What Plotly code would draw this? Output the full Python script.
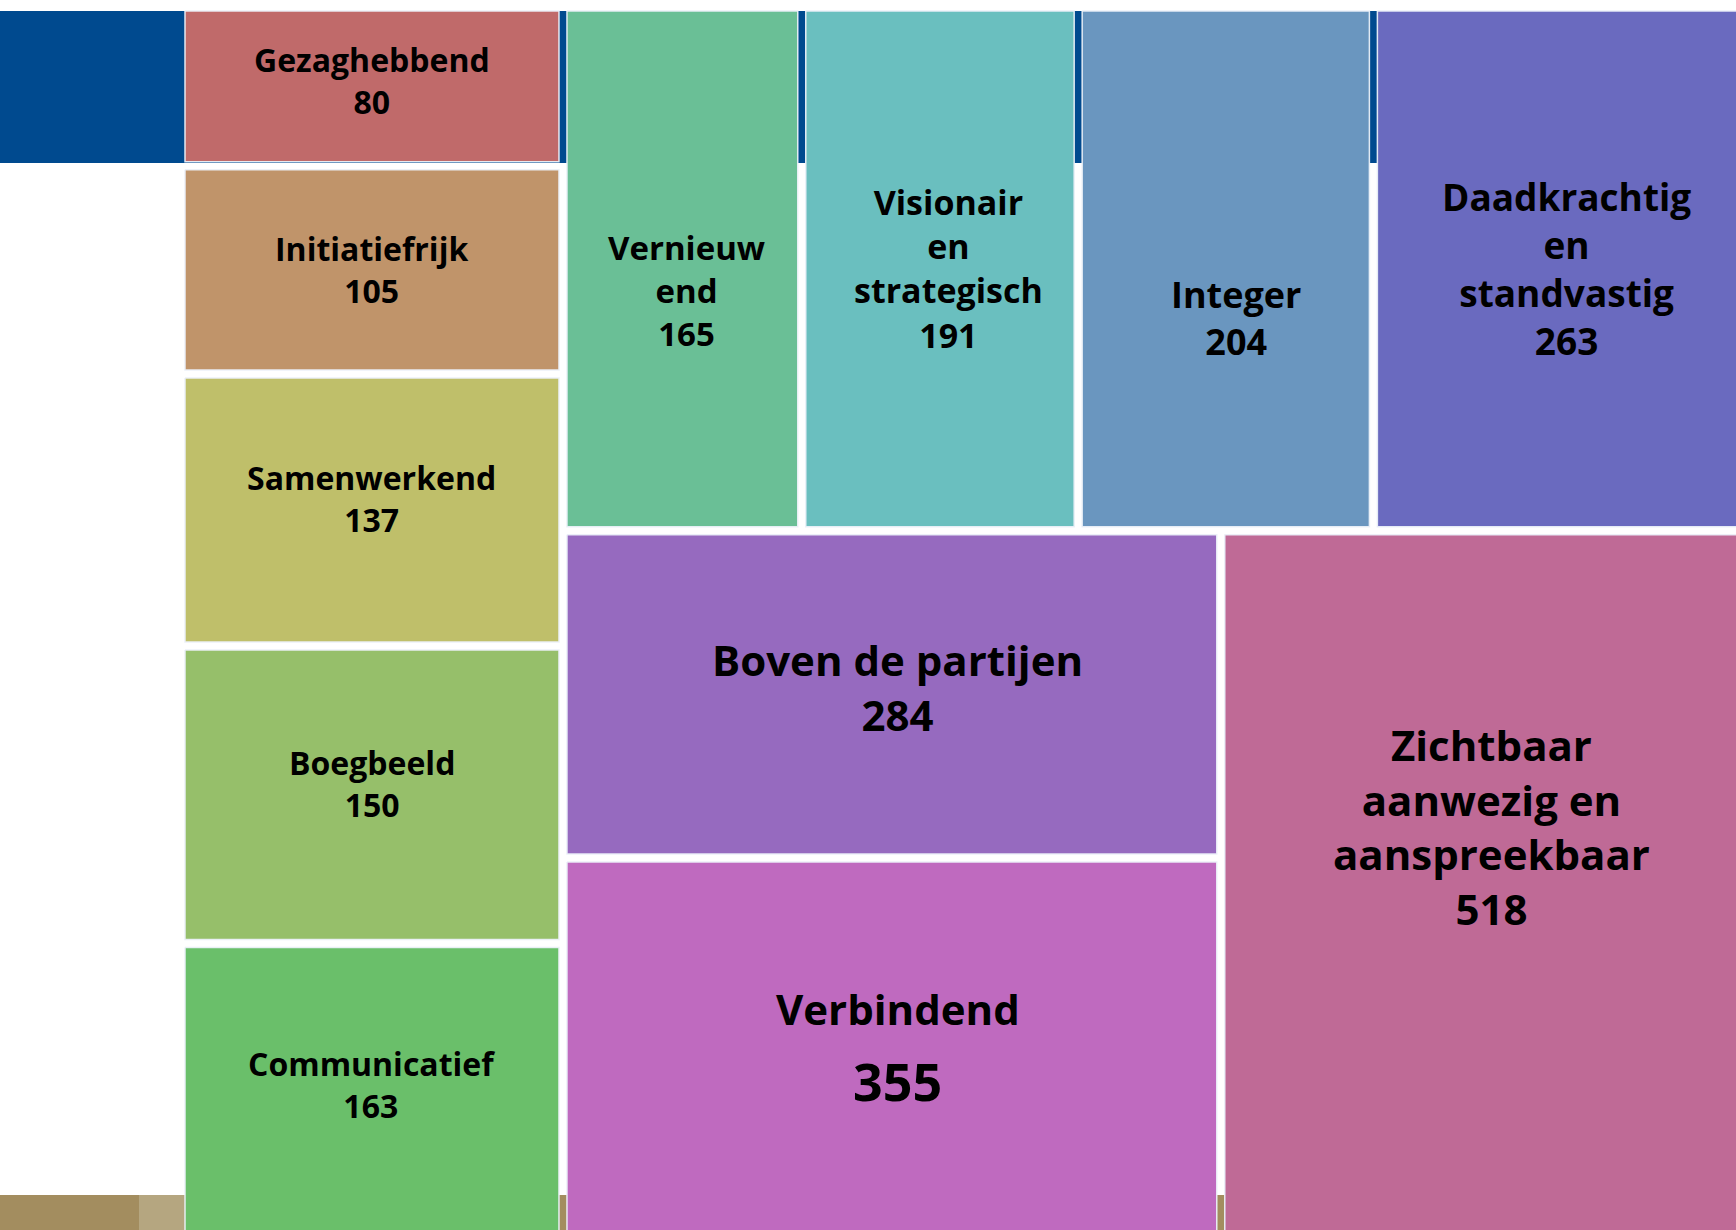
import plotly.graph_objects as go

# ---- data ----
left_labels = ["Gezaghebbend", "Initiatiefrijk", "Samenwerkend", "Boegbeeld", "Communicatief"]
left_values = [80, 105, 137, 150, 163]
top_labels = ["Vernieuw<br>end", "Visionair<br>en<br>strategisch", "Integer", "Daadkrachtig<br>en<br>standvastig"]
top_values = [165, 191, 204, 263]
stack_labels = ["Boven de partijen", "Verbindend"]
stack_values = [284, 355]
main_labels = ["Zichtbaar<br>aanwezig en<br>aanspreekbaar"]
main_values = [518]

# ---- styles ----
left_colors = ["#C06A6A", "#C0946A", "#BFBF6A", "#96BF6A", "#6ABF6A"]
top_colors = ["#6ABF96", "#6ABFBF", "#6A96BF", "#6A6ABF"]
stack_colors = ["#966ABF", "#BF6ABF"]
main_colors = ["#BF6A96"]
left_fs = [32, 32, 32, 32, 32]
top_fs = [33, 34, 36, 37]
stack_fs = [42, 42]
main_fs = [42]
left_dy = [-6, 0, -12, -11, -21]
top_dy = [22, 0, 49, 0]
stack_dy = [-7, -18]
main_dy = [-72]
left_dx = [0, 0, 0, 0, 0]
top_dx = [4, 9, 10, 3]
stack_dx = [6, 6]
main_dx = [4]

X0, Y0, W, H = 181.0, 7.0, 1573.0, 1260.0   # treemap frame (partly cropped by the view)
GAP = 4.0
FIG_W, FIG_H = 1736, 1230

fig = go.Figure()
cells = []  # (label, value, x0, y0, x1, y1, color, fs, dx, dy)

total = sum(left_values) + sum(top_values) + sum(stack_values) + sum(main_values)
wl = W * sum(left_values) / total
# left column: stacked vertically
y = Y0
for lab, v, c, fs, dx, dy in zip(left_labels, left_values, left_colors, left_fs, left_dx, left_dy):
    h = H * v / sum(left_values)
    cells.append((lab, v, X0, y, X0 + wl, y + h, c, fs, dx, dy))
    y += h
# right part
xr0 = X0 + wl
wr = W - wl
right_total = sum(top_values) + sum(stack_values) + sum(main_values)
th = H * sum(top_values) / right_total
x = xr0
for lab, v, c, fs, dx, dy in zip(top_labels, top_values, top_colors, top_fs, top_dx, top_dy):
    w = wr * v / sum(top_values)
    cells.append((lab, v, x, Y0, x + w, Y0 + th, c, fs, dx, dy))
    x += w
bh = H - th
bottom_total = sum(stack_values) + sum(main_values)
sw = wr * sum(stack_values) / bottom_total
y = Y0 + th
for lab, v, c, fs, dx, dy in zip(stack_labels, stack_values, stack_colors, stack_fs, stack_dx, stack_dy):
    h = bh * v / sum(stack_values)
    cells.append((lab, v, xr0, y, xr0 + sw, y + h, c, fs, dx, dy))
    y += h
for lab, v, c, fs, dx, dy in zip(main_labels, main_values, main_colors, main_fs, main_dx, main_dy):
    cells.append((lab, v, xr0 + sw, Y0 + th, X0 + W, Y0 + H, c, fs, dx, dy))

annotations = []
for lab, v, a0, b0, a1, b1, c, fs, dx, dy in cells:
    a0g, a1g, b0g, b1g = a0 + GAP, a1 - GAP, b0 + GAP, b1 - GAP
    fig.add_trace(go.Scatter(
        x=[a0g, a1g, a1g, a0g, a0g], y=[b0g, b0g, b1g, b1g, b0g],
        mode="lines", fill="toself", fillcolor=c,
        line=dict(color="rgba(235,240,248,0.95)", width=1.5),
        hoveron="fills", name=lab.replace("<br>", " ") + ": " + str(v),
        showlegend=False,
    ))
    cx = (a0g + a1g) / 2 + dx
    cy = (b0g + b1g) / 2 + dy
    font = dict(family="Open Sans", size=fs, color="black", weight=700)
    if lab == "Verbindend":
        annotations.append(dict(x=cx, y=cy - 36, xref="x", yref="y", text=lab,
                                showarrow=False, font=font))
        annotations.append(dict(x=cx, y=cy + 36, xref="x", yref="y", text=str(v),
                                showarrow=False, font=dict(font, size=52)))
    else:
        annotations.append(dict(x=cx, y=cy, xref="x", yref="y",
                                text=f"{lab}<br>{v}", showarrow=False,
                                align="center", font=font))

shapes = [
    dict(type="rect", xref="x", yref="y", x0=0, x1=FIG_W, y0=11, y1=163,
         fillcolor="#004A8F", line=dict(width=0), layer="below"),
    dict(type="rect", xref="x", yref="y", x0=0, x1=FIG_W, y0=1195, y1=FIG_H,
         fillcolor="#A38D5F", line=dict(width=0), layer="below"),
    dict(type="rect", xref="x", yref="y", x0=139, x1=185, y0=1195, y1=FIG_H,
         fillcolor="#B5A680", line=dict(width=0), layer="below"),
]

fig.update_layout(
    width=FIG_W, height=FIG_H,
    margin=dict(l=0, r=0, t=0, b=0),
    paper_bgcolor="white", plot_bgcolor="white",
    xaxis=dict(range=[0, FIG_W], visible=False, fixedrange=True),
    yaxis=dict(range=[FIG_H, 0], visible=False, fixedrange=True),
    annotations=annotations, shapes=shapes,
    showlegend=False,
)

fig.write_html("out.html", config={"displayModeBar": False},
               post_script="document.body.style.margin='0';document.body.style.overflow='hidden';")
